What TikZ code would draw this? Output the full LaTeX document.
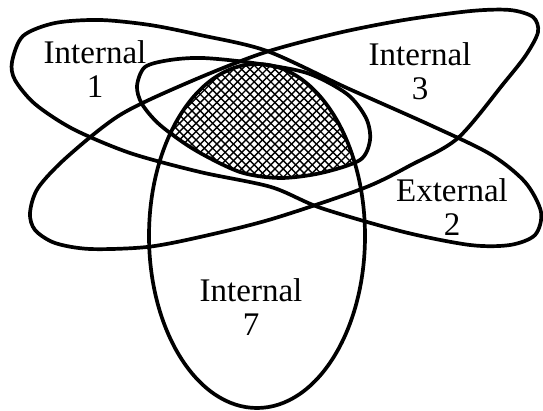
\documentclass[tikz,border=0pt]{standalone}
\usepackage{fontspec}
\setmainfont{Liberation Serif}
\def\shapeA{plot[smooth cycle] coordinates {(12,62) (23,36) (55,23) (100,20) (150,25) (200,35) (267,51) (347,88) (430,125) (490,154) (525,182) (541,212) (535,235) (510,245) (470,245) (404,232) (321,208) (271,187) (200,172) (130,153) (73,129) (35,104) (15,80)}}
\def\shapeB{plot[smooth cycle] coordinates {(30,213) (38,188) (67,157) (120,115) (187,83) (263,53) (338,33) (404,20) (471,11) (510,10) (533,17) (538,32) (526,55) (504,83) (458,138) (411,165) (364,188) (272,219) (200,237) (147,247) (90,249) (55,243) (35,230)}}
\def\shapeC{(257,236) ellipse [x radius=108, y radius=172]}
\def\shapeD{plot[smooth cycle] coordinates {(137,86) (145,67) (170,60) (203,58) (253,63) (307,73) (347,94) (366,118) (370,140) (360,160) (321,173) (280,178) (240,172) (195,150) (160,125) (142,104)}}
\tikzset{
  outline/.style={draw=black, line width=3.7pt, line join=round},
  hatch/.style={draw=black, line width=1.4pt},
  lbl/.style={font=\fontsize{33}{34}\selectfont, align=center, inner sep=0pt, anchor=center}
}
\begin{document}
\begin{tikzpicture}[x=1pt, y=-1pt]
\useasboundingbox (0,0) rectangle (543,411);
\fill[white] (0,0) rectangle (543,411);
\begin{scope}
  \clip \shapeC;
  \clip \shapeD;
  \foreach \c in {-60,-51.7,...,340} {
    \draw[hatch] (\c+40,40) -- (\c+200,200);
  }
  \foreach \c in {170,178.3,...,580} {
    \draw[hatch] (\c-40,40) -- (\c-200,200);
  }
\end{scope}
\draw[outline] \shapeA;
\draw[outline] \shapeB;
\draw[outline] \shapeC;
\draw[outline] \shapeD;
\node[lbl] (int1) at (95,69) {Internal\\1};
\node[lbl] (int3) at (420,71.5) {Internal\\3};
\node[lbl] (ext2) at (452,207.5) {External\\2};
\node[lbl] (int7) at (251,307.5) {Internal\\7};
\end{tikzpicture}
\end{document}
